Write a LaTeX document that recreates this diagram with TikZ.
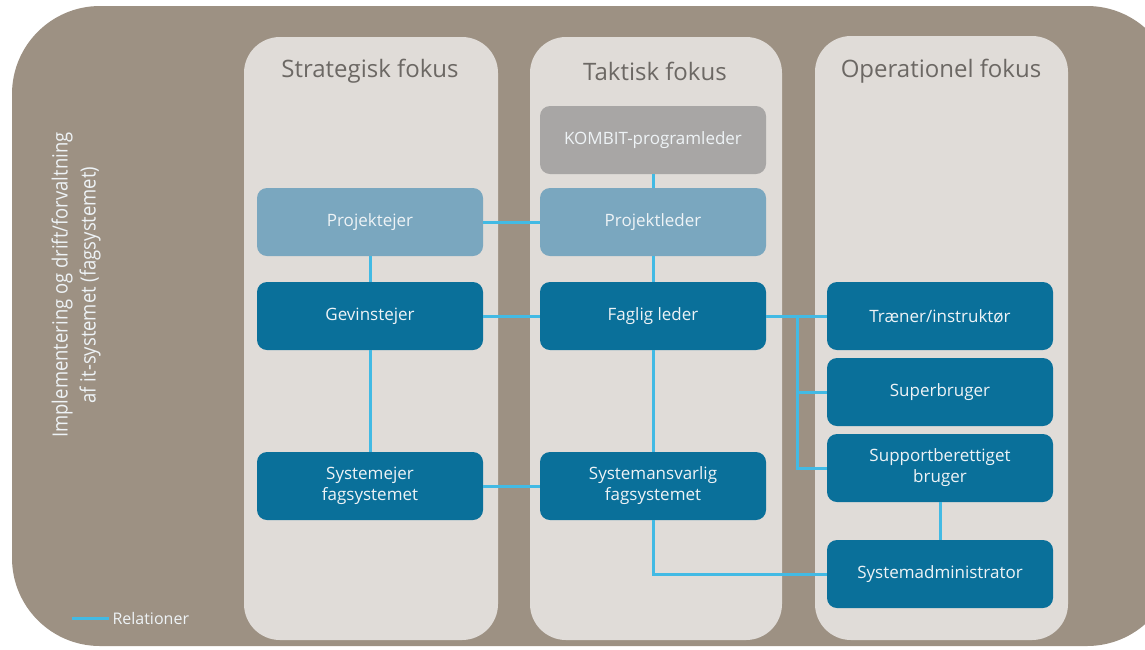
\documentclass[tikz,border=0pt]{standalone}
\usepackage{fontspec}
\setmainfont{Open Sans}
\newfontfamily\sidefont[FakeStretch=0.88]{Open Sans}
\definecolor{bgbrown}{HTML}{9D9183}
\definecolor{colgray}{HTML}{E0DCD8}
\definecolor{titlegray}{HTML}{6C6864}
\definecolor{darkbox}{HTML}{0A709A}
\definecolor{lightbox}{HTML}{7AA7BF}
\definecolor{graybox}{HTML}{A8A6A5}
\definecolor{relblue}{HTML}{42BAE4}
\definecolor{boxtext}{HTML}{EEF3F6}
\tikzset{
  box/.style={rounded corners=10pt, minimum width=226pt, minimum height=68pt, inner sep=0pt,
    align=center, text=boxtext, font=\fontsize{17}{21}\selectfont},
  dbox/.style={box, fill=darkbox},
  lbox/.style={box, fill=lightbox},
  gbox/.style={box, fill=graybox},
  colbox/.style={fill=colgray, rounded corners=36pt},
  coltitle/.style={text=titlegray, font=\fontsize{24}{28}\selectfont},
  rel/.style={draw=relblue, line width=3pt}
}
\begin{document}
\begin{tikzpicture}[x=1pt,y=-1pt]
\useasboundingbox (0,0) rectangle (1145,649);
% background
\fill[bgbrown, rounded corners=88pt] (12,6) rectangle (1175,646);
% columns
\fill[colbox] (244,37) rectangle (498,640);
\fill[colbox] (530,37) rectangle (782,640);
\fill[colbox] (815,36) rectangle (1068,640);
\node[coltitle] (t1) at (370,71) {Strategisk fokus};
\node[coltitle] (t2) at (655,71) {Taktisk fokus};
\node[coltitle] (t3) at (941,71) {Operationel fokus};
% side text
\node[rotate=90, align=center, text=boxtext, font=\sidefont\fontsize{21}{28}\selectfont] (side) at (76,285)
  {Implementering og drift/forvaltning\\af it-systemet (fagsystemet)};
% boxes
\node[gbox] (kp) at (653,140) {KOMBIT-programleder};
\node[lbox] (pe) at (370,222) {Projektejer};
\node[lbox] (pl) at (653,222) {Projektleder};
\node[dbox] (ge) at (370,316) {Gevinstejer};
\node[dbox] (fl) at (653,316) {Faglig leder};
\node[dbox] (tr) at (940,316) {Træner/instruktør};
\node[dbox] (sb) at (940,392) {Superbruger};
\node[dbox] (sp) at (940,468) {Supportberettiget\\bruger};
\node[dbox] (se) at (370,486) {Systemejer\\fagsystemet};
\node[dbox] (sa) at (653,486) {Systemansvarlig\\fagsystemet};
\node[dbox] (sy) at (940,574) {Systemadministrator};
% connectors
\draw[rel] (pe.east) -- (pl.west);
\draw[rel] (pe.south) -- (ge.north);
\draw[rel] (ge.south) -- (se.north);
\draw[rel] (ge.east) -- (fl.west);
\draw[rel] (kp.south) -- (pl.north);
\draw[rel] (pl.south) -- (fl.north);
\draw[rel] (fl.south) -- (sa.north);
\draw[rel] (se.east) -- (sa.west);
\draw[rel] (fl.east) -- (tr.west);
\coordinate (br) at (797,316);
\draw[rel] (br) |- (sb.west);
\draw[rel] (br) |- (sp.west);
\draw[rel] (sp.south) -- (sy.north);
\draw[rel] (sa.south) |- (sy.west);
% legend
\node[anchor=west, text=boxtext, font=\fontsize{16}{19}\selectfont] (leg) at (109,618) {Relationer};
\coordinate (l1) at (72,618);
\draw[rel] (l1) -- (leg.west);
\end{tikzpicture}
\end{document}
